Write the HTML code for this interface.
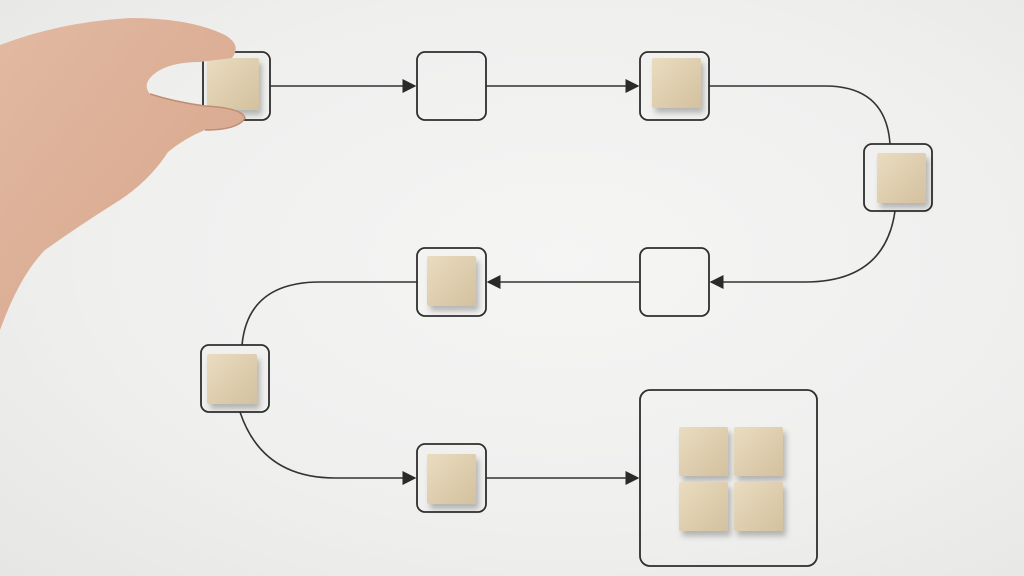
<!DOCTYPE html>
<html><head><style>
html,body{margin:0;padding:0;}
body{width:1024px;height:576px;overflow:hidden;background:radial-gradient(ellipse at 55% 45%,#f5f5f4 0%,#efefee 60%,#e6e6e5 100%);}
svg{position:absolute;left:0;top:0;}
</style></head><body>
<svg width="1024" height="576" viewBox="0 0 1024 576">
<defs>
<linearGradient id="w" x1="0" y1="0" x2="1" y2="1">
<stop offset="0" stop-color="#eadcc0"/><stop offset="1" stop-color="#d3c19e"/></linearGradient>
<linearGradient id="h" x1="0" y1="0" x2="1" y2="1">
<stop offset="0" stop-color="#e2b9a2"/><stop offset="1" stop-color="#d6a58a"/></linearGradient>
<marker id="a" viewBox="0 0 10 10" refX="9" refY="5" markerWidth="14" markerHeight="14" markerUnits="userSpaceOnUse" orient="auto"><path d="M0,0 L10,5 L0,10 z" fill="#2a2a2a"/></marker>
<filter id="s" x="-30%" y="-30%" width="160%" height="160%"><feDropShadow dx="3" dy="5" stdDeviation="3" flood-color="#000" flood-opacity="0.25"/></filter>
</defs>
<g fill="none" stroke="#333" stroke-width="1.6">
<path d="M270 86 H415" marker-end="url(#a)"/>
<path d="M486 86 H638" marker-end="url(#a)"/>
<path d="M709 86 H825 Q886 86 890 144"/>
<path d="M895 211 Q885 282 805 282 H711" marker-end="url(#a)"/>
<path d="M640 282 H488" marker-end="url(#a)"/>
<path d="M417 282 H320 Q248 282 242 345"/>
<path d="M240 412 Q262 478 335 478 H415" marker-end="url(#a)"/>
<path d="M486 478 H638" marker-end="url(#a)"/>
</g>
<g fill="none" stroke="#2e2e2e" stroke-width="1.8">
<rect x="203" y="52" width="67" height="68" rx="8"/>
<rect x="417" y="52" width="69" height="68" rx="8"/>
<rect x="640" y="52" width="69" height="68" rx="8"/>
<rect x="864" y="144" width="68" height="67" rx="8"/>
<rect x="640" y="248" width="69" height="68" rx="8"/>
<rect x="417" y="248" width="69" height="68" rx="8"/>
<rect x="201" y="345" width="68" height="67" rx="8"/>
<rect x="417" y="444" width="69" height="68" rx="8"/>
<rect x="640" y="390" width="177" height="176" rx="10"/>
</g>
<g fill="url(#w)" filter="url(#s)">
<rect x="207" y="58" width="52" height="52" rx="2"/>
<rect x="652" y="58" width="49" height="50" rx="2"/>
<rect x="877" y="153" width="49" height="50" rx="2"/>
<rect x="427" y="256" width="49" height="50" rx="2"/>
<rect x="207" y="354" width="50" height="50" rx="2"/>
<rect x="427" y="454" width="49" height="50" rx="2"/>
<rect x="679" y="427" width="49" height="49" rx="2"/>
<rect x="734" y="427" width="49" height="49" rx="2"/>
<rect x="679" y="482" width="49" height="49" rx="2"/>
<rect x="734" y="482" width="49" height="49" rx="2"/>
</g>
<path d="M0 45 Q60 22 130 18 Q190 18 225 35 Q242 45 232 58 Q215 60 200 62 Q175 62 160 70 Q140 82 150 94 Q175 102 205 106 Q242 108 245 118 Q238 130 205 130 Q185 138 168 152 Q150 180 120 200 Q80 225 45 250 Q20 275 0 330 Z" fill="url(#h)"/>
<path d="M150 94 Q175 102 205 106 Q242 108 245 118 Q238 130 205 130" fill="none" stroke="#c08e72" stroke-width="1.5"/>
</svg>
</body></html>
